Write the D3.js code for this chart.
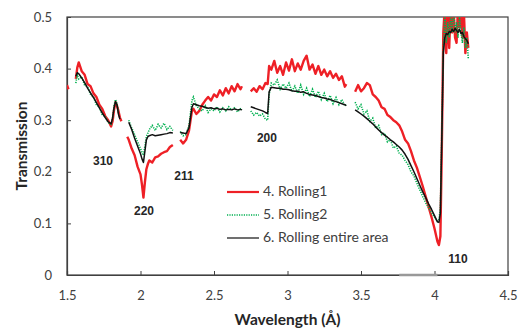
<!DOCTYPE html>
<html><head><meta charset="utf-8">
<script src="https://cdn.jsdelivr.net/npm/d3@7"></script>
<style>
body{margin:0;background:#fff;}
svg{display:block;}
</style></head>
<body><svg id="c" width="521" height="331"></svg>
<script>
// ---- data (null = gap in the measurement) ----
const wavelength = [
 1.50,1.51,1.53,
 1.56,1.57,1.58,1.60,1.62,1.64,1.66,1.68,1.70,1.72,1.74,1.76,1.78,1.80,1.81,1.82,1.83,1.84,1.85,1.86,1.87,1.89,
 1.91,1.92,1.94,1.96,1.98,2.00,2.01,2.02,2.03,2.04,2.05,2.06,2.08,2.10,2.12,2.14,2.16,2.18,2.20,2.22,2.24,
 2.27,2.29,2.31,2.33,2.35,2.36,2.38,2.40,2.42,2.44,2.46,2.48,2.50,2.52,2.54,2.56,2.58,2.60,2.62,2.64,2.66,2.68,2.69,2.72,
 2.75,2.77,2.79,2.81,2.83,2.85,2.865,2.875,2.89,2.91,2.93,2.95,2.97,2.99,3.01,3.03,3.05,3.07,3.09,3.11,3.13,3.15,3.17,3.19,3.21,3.23,3.25,3.27,3.29,3.31,3.33,3.35,3.37,3.39,3.40,3.43,
 3.46,3.48,3.50,3.52,3.54,3.56,3.58,3.60,3.62,3.64,3.66,3.68,3.70,3.72,3.74,3.76,3.78,3.80,3.82,3.84,3.86,3.88,3.90,3.92,3.94,3.96,3.98,4.00,4.02,4.03,4.04,4.05,
 4.06,4.07,4.08,4.09,4.10,4.11,4.12,4.13,4.14,4.15,4.16,4.17,4.18,4.19,4.20,4.21,4.22,4.23
];
const rolling1 = [
 0.368,0.360,null,
 0.380,0.402,0.412,0.395,0.388,0.370,0.366,0.352,0.345,0.330,0.322,0.308,0.300,0.288,0.298,0.320,0.335,0.328,0.318,0.305,0.298,null,
 0.268,0.262,0.245,0.232,0.210,0.195,0.175,0.150,0.180,0.205,0.215,0.222,0.218,0.228,0.230,0.235,0.238,0.240,0.248,0.252,null,
 0.262,0.255,0.262,0.280,0.318,0.322,0.312,0.318,0.330,0.338,0.345,0.338,0.350,0.345,0.358,0.348,0.362,0.352,0.366,0.356,0.370,0.360,0.366,null,
 0.356,0.362,0.355,0.366,0.360,0.372,0.370,0.405,0.398,0.415,0.392,0.405,0.388,0.412,0.396,0.418,0.395,0.410,0.398,0.415,0.425,0.398,0.408,0.390,0.405,0.388,0.398,0.385,0.395,0.382,0.390,0.378,0.385,0.365,0.370,null,
 0.355,0.368,0.356,0.362,0.372,0.368,0.350,0.345,0.338,0.325,0.322,0.310,0.306,0.300,0.296,0.290,0.278,0.262,0.255,0.240,0.222,0.208,0.190,0.172,0.152,0.132,0.112,0.090,0.065,0.058,0.075,0.250,
 0.470,0.520,0.430,0.510,0.440,0.520,0.470,0.510,0.460,0.450,0.520,0.480,0.520,0.460,0.510,0.430,0.470,0.440
];
const rolling2 = [
 null,null,null,
 0.372,0.388,0.380,0.384,0.368,0.365,0.350,0.345,0.330,0.326,0.310,0.308,0.295,0.292,0.302,0.328,0.340,0.332,0.315,null,null,null,
 null,0.300,0.285,0.272,0.258,0.245,0.238,0.232,0.250,0.268,0.275,0.282,0.290,0.280,0.292,0.285,0.294,0.282,0.288,0.280,null,
 0.278,0.270,0.272,0.290,0.338,0.345,0.328,0.322,0.318,0.328,0.315,0.322,0.318,0.326,0.316,0.324,0.318,0.326,0.320,0.324,0.316,0.322,0.320,null,
 0.318,0.310,0.315,0.308,0.312,0.302,0.300,0.350,0.372,0.368,0.378,0.360,0.370,0.362,0.372,0.356,0.366,0.352,0.368,0.350,0.362,0.346,0.360,0.344,0.356,0.340,0.352,0.336,0.348,0.332,0.344,0.330,0.340,0.328,0.332,null,
 0.335,0.322,0.330,0.312,0.318,0.298,0.304,0.285,0.290,0.272,0.275,0.258,0.262,0.246,0.250,0.236,0.232,0.222,0.214,0.200,0.192,0.178,0.165,0.152,0.140,0.130,0.120,0.112,0.104,0.106,0.130,0.280,
 0.440,0.500,0.450,0.490,0.460,0.500,0.470,0.520,0.470,0.490,0.460,0.500,0.470,0.450,0.480,0.440,0.460,0.420
];
const rollingEntire = [
 null,null,null,
 0.385,0.392,0.390,0.382,0.373,0.362,0.353,0.344,0.334,0.324,0.314,0.305,0.297,0.293,0.304,0.324,0.336,0.330,0.312,0.302,null,null,
 null,0.296,0.282,0.265,0.250,0.235,0.225,0.218,0.240,0.262,0.268,0.270,0.272,0.270,0.271,0.272,0.273,0.274,0.276,0.275,null,
 0.276,0.275,0.274,0.285,0.325,0.332,0.330,0.328,0.327,0.325,0.323,0.324,0.322,0.323,0.321,0.322,0.320,0.321,0.320,0.322,0.320,0.321,0.320,null,
 0.326,0.324,0.322,0.320,0.318,0.315,0.313,0.355,0.364,0.363,0.362,0.362,0.360,0.360,0.359,0.357,0.356,0.356,0.354,0.355,0.352,0.350,0.349,0.348,0.346,0.344,0.343,0.341,0.340,0.338,0.336,0.334,0.332,0.330,0.328,null,
 0.320,0.316,0.312,0.308,0.303,0.298,0.293,0.287,0.281,0.276,0.271,0.267,0.262,0.258,0.253,0.248,0.242,0.234,0.224,0.212,0.200,0.187,0.174,0.161,0.150,0.138,0.127,0.115,0.103,0.102,0.120,0.270,
 0.430,0.460,0.468,0.466,0.472,0.470,0.476,0.472,0.478,0.474,0.470,0.476,0.468,0.470,0.462,0.458,0.455,0.448
];
const xTicks = [1.5, 2, 2.5, 3, 3.5, 4, 4.5];
const yTicks = [0, 0.1, 0.2, 0.3, 0.4, 0.5];
const peakLabels = ["310", "220", "211", "200", "110"];
const peakWavelength = [1.745, 2.024, 2.296, 2.86, 4.16];
const peakTransmission = [0.22, 0.122, 0.19, 0.263, 0.029];
const seriesNames = ["4. Rolling1", "5. Rolling2", "6. Rolling entire area"];
const axisMark = [3.76, 4.02];

// ---- drawing ----
const svg = d3.select("#c");
const L = 67, R = 508, T = 17, B = 275;
const x = d3.scaleLinear().domain([1.5, 4.5]).range([L, R]);
const y = d3.scaleLinear().domain([0, 0.5]).range([B, T]);
const font = "Lato, 'Open Sans', sans-serif";
const textCol = "#404040";

svg.append("defs").append("clipPath").attr("id", "clip")
  .append("rect").attr("x", L).attr("y", T).attr("width", R - L).attr("height", B - T);

// frame
svg.append("rect").attr("x", L).attr("y", T).attr("width", R - L).attr("height", B - T)
  .attr("fill", "none").attr("stroke", "#404040").attr("stroke-width", 1.2);

// axes (ticks inward)
const xAxis = d3.axisBottom(x).tickValues(xTicks).tickSize(-4).tickFormat(d3.format("")).tickPadding(16);
const gx = svg.append("g").attr("transform", `translate(0,${B})`).call(xAxis);
const yAxis = d3.axisLeft(y).tickValues(yTicks).tickSize(-4).tickFormat(d => d === 0 ? "0" : d3.format(".1f")(d)).tickPadding(15);
const gy = svg.append("g").attr("transform", `translate(${L},0)`).call(yAxis);
[gx, gy].forEach(g => {
  g.select(".domain").attr("stroke", "#404040").attr("stroke-width", 1.2);
  g.selectAll(".tick line").attr("stroke", "#404040");
  g.selectAll(".tick text").attr("fill", textCol).style("font-family", font).style("font-size", "13px");
});

// gray mark on the axis
svg.append("line").attr("x1", x(axisMark[0])).attr("x2", x(axisMark[1]))
  .attr("y1", y(0)).attr("y2", y(0)).attr("stroke", "#999").attr("stroke-width", 2.5);

const data = wavelength.map((w, i) => ({w, r: rolling1[i], g: rolling2[i], b: rollingEntire[i]}));
const mk = k => d3.line().defined(d => d[k] !== null).x(d => x(d.w)).y(d => y(d[k]));
const plot = svg.append("g").attr("clip-path", "url(#clip)");
plot.append("path").attr("d", mk("r")(data)).attr("fill", "none").attr("stroke", "#ee2026").attr("stroke-width", 2.4).attr("stroke-linejoin", "round");
plot.append("path").attr("d", mk("g")(data)).attr("fill", "none").attr("stroke", "#00b050").attr("stroke-width", 1.6).attr("stroke-dasharray", "1.2,1.2");
plot.append("path").attr("d", mk("b")(data)).attr("fill", "none").attr("stroke", "#111").attr("stroke-width", 1.5).attr("stroke-linejoin", "round");

// peak labels
peakLabels.forEach((t, i) => {
  svg.append("text").attr("x", x(peakWavelength[i])).attr("y", y(peakTransmission[i]))
    .attr("text-anchor", "middle").attr("dominant-baseline", "middle")
    .style("font-family", "'Liberation Sans', Arial, sans-serif").style("font-weight", "bold").style("font-size", "12px")
    .attr("fill", "#262626").text(t);
});

// legend
const legColors = ["#ee2026", "#00b050", "#404040"];
const legDash = [null, "1.2,1.2", null];
seriesNames.forEach((n, i) => {
  const yy = 192 + i * 23;
  svg.append("line").attr("x1", 227).attr("x2", 259).attr("y1", yy).attr("y2", yy)
    .attr("stroke", legColors[i]).attr("stroke-width", i === 0 ? 2.2 : 1.5).attr("stroke-dasharray", legDash[i]);
  svg.append("text").attr("x", 263).attr("y", yy).attr("dominant-baseline", "middle")
    .style("font-family", font).style("font-size", "14px").attr("fill", textCol).text(n);
});

// axis titles
svg.append("text").attr("x", (L + R) / 2).attr("y", 321).attr("text-anchor", "middle").attr("dominant-baseline", "middle")
  .style("font-family", font).style("font-weight", "bold").style("font-size", "15.5px").attr("fill", "#262626").text("Wavelength (Å)");
svg.append("text").attr("transform", `translate(23,${(T + B) / 2}) rotate(-90)`).attr("text-anchor", "middle").attr("dominant-baseline", "middle")
  .style("font-family", font).style("font-weight", "bold").style("font-size", "15.5px").attr("fill", "#262626").text("Transmission");
</script></body></html>
